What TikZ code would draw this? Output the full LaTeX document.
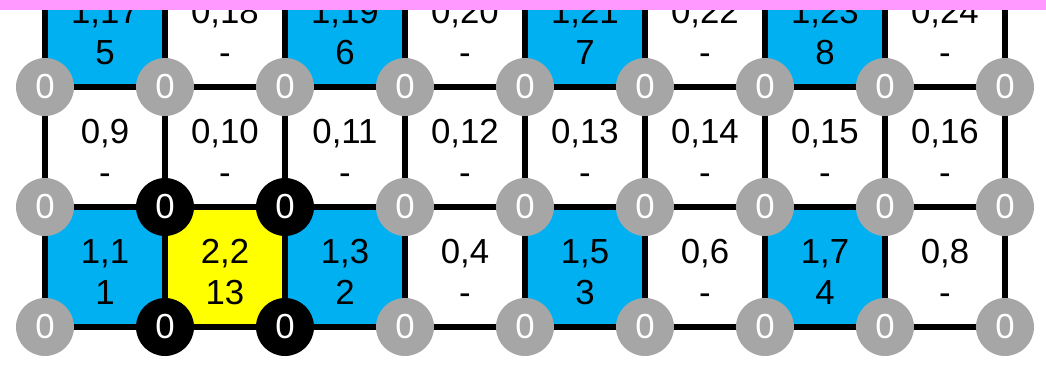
\documentclass[tikz,border=0pt]{standalone}
\usepackage{fontspec}
\setmainfont{Liberation Sans}
\definecolor{cellblue}{HTML}{00B0F0}
\definecolor{vertgray}{HTML}{A6A6A6}
\definecolor{cellyellow}{HTML}{FFFF00}
\definecolor{barpink}{HTML}{FF99FF}
\tikzset{
	cell/.style={minimum size=2cm, inner sep=0pt, align=center, text height=35.4pt, font=\fontsize{16.5}{19.5}\selectfont},
	vert 0/.style={circle, fill=vertgray, minimum size=0.967cm, inner sep=0pt, text=white, font=\fontsize{16.5}{19.5}\selectfont},
	vert 1/.style={vert 0, fill=black},
	edge/.style={line width=2.4pt}
}
\begin{document}
\begin{tikzpicture}[x=2cm, y=2cm, line join=round, line cap=round]
	\useasboundingbox (-0.375,-0.333) rectangle (8.342,2.725);
	\clip (-0.375,-0.333) rectangle (8.342,2.725);
	% grid points
	\foreach \i in {0,...,8}
		\foreach \j in {0,...,3}
			\coordinate (p-\i-\j) at (\i,\j);
	% cells: column/row/fill/state/value
	\foreach \c/\r/\col/\k/\v in {0/0/cellblue/1/1, 1/0/cellyellow/2/13, 2/0/cellblue/1/2, 3/0/white/0/-,
			4/0/cellblue/1/3, 5/0/white/0/-, 6/0/cellblue/1/4, 7/0/white/0/-,
			0/2/cellblue/1/5, 1/2/white/0/-, 2/2/cellblue/1/6, 3/2/white/0/-,
			4/2/cellblue/1/7, 5/2/white/0/-, 6/2/cellblue/1/8, 7/2/white/0/-}{
		\pgfmathtruncatemacro\n{\r*8+\c+1}
		\node[cell, fill=\col] (c-\c-\r) at (\c+0.5,\r+0.5) {\k,\n\\\v};
	}
	\foreach \c in {0,...,7}{
		\pgfmathtruncatemacro\n{8+\c+1}
		\node[cell] (c-\c-1) at (\c+0.5,1.5) {0,\n\\-};
	}
	% grid lines
	\foreach \j in {0,1,2}
		\draw[edge] (p-0-\j) -- (p-8-\j);
	\foreach \i in {0,...,8}
		\draw[edge] (p-\i-0) -- (p-\i-3);
	% vertices
	\foreach \i in {0,...,8}
		\foreach \j in {0,1,2}{
			\pgfmathtruncatemacro\hot{and(or(\i==1,\i==2),\j<2)}
			\node[vert \hot] (v-\i-\j) at (p-\i-\j) {0};
		}
	\fill[barpink] (-0.375,2.642) rectangle (8.342,2.8);
\end{tikzpicture}
\end{document}
